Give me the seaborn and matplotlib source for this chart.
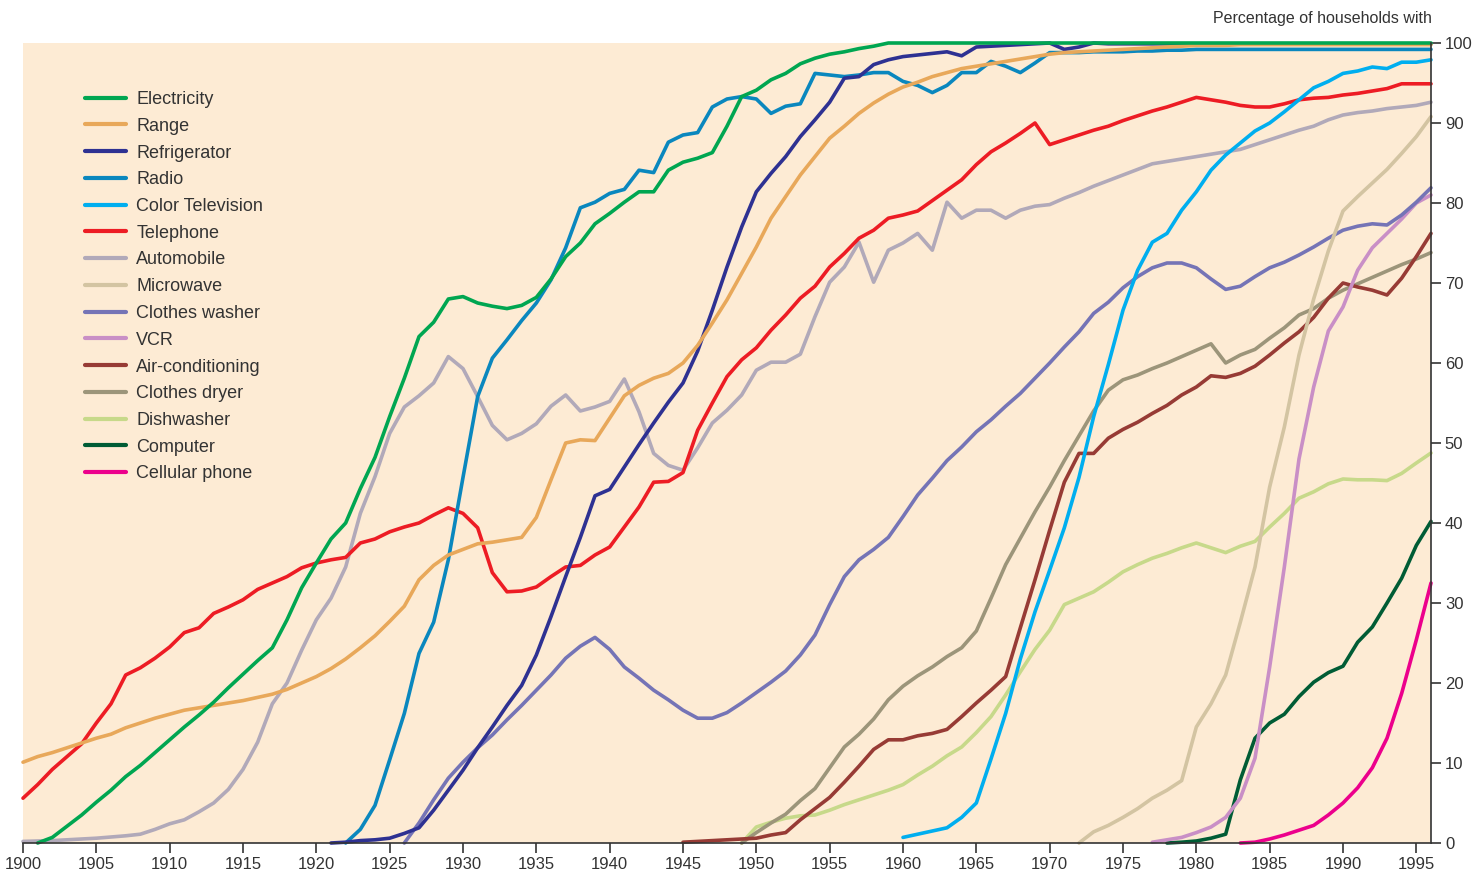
import pandas as pd
import matplotlib.pyplot as plt
import seaborn as sns

items = ["Electricity", "Range", "Refrigerator", "Radio", "Color Television",
         "Telephone", "Automobile", "Microwave", "Clothes washer", "VCR",
         "Air-conditioning", "Clothes dryer", "Dishwasher", "Computer",
         "Cellular phone"]
colors = ["#00A651", "#E8A85A", "#2E3192", "#0A87BE", "#00AEEF",
          "#ED1C24", "#B1A9B9", "#D3C4A2", "#7574B6", "#C98FC6",
          "#973B35", "#9C957A", "#C7D98A", "#005C35", "#EC008C"]

# first year of each series
starts = [1901, 1900, 1921, 1922, 1960, 1900, 1900, 1972, 1926, 1977,
          1945, 1949, 1949, 1978, 1983]

electricity = [0, 0.7, 2.1, 3.5, 5.1, 6.6, 8.3, 9.7, 11.3, 12.9,
               14.5, 16.0, 17.6, 19.4, 21.1, 22.8, 24.4, 27.9, 31.9, 35.0,
               38.0, 40.0, 44.3, 48.2, 53.3, 58.1, 63.3, 65.1, 68.0, 68.3,
               67.5, 67.1, 66.8, 67.2, 68.2, 70.5, 73.3, 75.0, 77.4, 78.7,
               80.1, 81.4, 81.4, 84.1, 85.1, 85.6, 86.3, 89.6, 93.3, 94.1,
               95.4, 96.2, 97.4, 98.1, 98.6, 98.9, 99.3, 99.6, 100, 100,
               100, 100, 100, 100, 100, 100, 100, 100, 100, 100,
               100, 100, 100, 100, 100, 100, 100, 100, 100, 100,
               100, 100, 100, 100, 100, 100, 100, 100, 100, 100,
               100, 100, 100, 100, 100, 100]
stove_range = [10.1, 10.8, 11.3, 11.9, 12.5, 13.1, 13.6, 14.4, 15.0, 15.6,
               16.1, 16.6, 16.9, 17.2, 17.5, 17.8, 18.2, 18.6, 19.2, 20.0,
               20.8, 21.8, 23.0, 24.4, 25.9, 27.7, 29.6, 32.9, 34.7, 36.0,
               36.7, 37.4, 37.6, 37.9, 38.2, 40.7, 45.4, 50.0, 50.4, 50.3,
               53.1, 55.9, 57.2, 58.1, 58.7, 60.0, 62.2, 65.0, 67.9, 71.2,
               74.5, 78.1, 80.8, 83.5, 85.8, 88.1, 89.6, 91.2, 92.5, 93.6,
               94.5, 95.1, 95.8, 96.3, 96.8, 97.1, 97.4, 97.7, 98.0, 98.3,
               98.6, 98.8, 98.9, 99.0, 99.1, 99.2, 99.3, 99.4, 99.5, 99.6,
               99.7, 99.7, 99.7, 99.8, 99.8, 99.8, 99.8, 99.8, 99.8, 99.8,
               99.8, 99.8, 99.8, 99.8, 99.8, 99.8, 99.8]
refrigerator = [0, 0.1, 0.3, 0.4, 0.6, 1.2, 1.9, 4.1, 6.6, 9.1,
                11.9, 14.5, 17.2, 19.7, 23.5, 28.3, 33.3, 38.2, 43.4, 44.2,
                47.0, 49.8, 52.5, 55.1, 57.5, 61.5, 66.6, 72.0, 77.0, 81.4,
                83.7, 85.8, 88.3, 90.4, 92.6, 95.6, 95.8, 97.3, 97.9, 98.3,
                98.5, 98.7, 98.9, 98.4, 99.5, 99.6, 99.7, 99.8, 99.9, 100,
                99.2, 99.5, 100, 99.9, 99.9, 99.9, 99.9, 99.9, 99.9, 99.9,
                99.9, 99.9, 99.9, 99.9, 99.9, 99.9, 99.9, 99.9, 99.9, 99.9,
                99.9, 99.9, 99.9, 99.9, 99.9, 99.9]
radio = [0, 1.7, 4.7, 10.4, 16.2, 23.7, 27.6, 35.4, 45.7,
         55.8, 60.6, 62.9, 65.3, 67.5, 70.4, 74.4, 79.4, 80.1, 81.2,
         81.7, 84.1, 83.8, 87.6, 88.5, 88.8, 92.0, 93.0, 93.3, 93.0,
         91.2, 92.1, 92.4, 96.2, 96.0, 95.8, 96.0, 96.3, 96.3, 95.2,
         94.7, 93.8, 94.7, 96.3, 96.3, 97.7, 97.1, 96.3, 97.5, 98.8,
         98.8, 98.8, 98.9, 98.9, 98.9, 99.0, 99.0, 99.1, 99.1, 99.2,
         99.2, 99.2, 99.2, 99.2, 99.2, 99.2, 99.2, 99.2, 99.2, 99.2,
         99.2, 99.2, 99.2, 99.2, 99.2, 99.2]
color_tv = [0.7, 1.1, 1.5, 1.9, 3.2, 5.0, 10.5, 16.2, 23.0, 28.9,
            34.1, 39.4, 45.7, 53.3, 59.8, 66.6, 71.6, 75.1, 76.2, 79.1,
            81.4, 84.1, 86.0, 87.5, 89.0, 90.0, 91.4, 92.9, 94.4, 95.2,
            96.2, 96.5, 97.0, 96.8, 97.6, 97.6, 97.9]
telephone = [5.6, 7.3, 9.2, 10.8, 12.4, 15.0, 17.4, 21.0, 21.9, 23.1,
             24.5, 26.3, 26.9, 28.7, 29.5, 30.4, 31.7, 32.5, 33.3, 34.4,
             35.0, 35.4, 35.7, 37.5, 38.0, 38.9, 39.5, 40.0, 41.0, 41.9,
             41.2, 39.4, 33.8, 31.4, 31.5, 32.0, 33.3, 34.5, 34.7, 36.0,
             37.0, 39.5, 42.0, 45.1, 45.2, 46.3, 51.6, 55.0, 58.3, 60.4,
             61.9, 64.1, 66.0, 68.1, 69.6, 72.0, 73.7, 75.6, 76.6, 78.1,
             78.5, 79.0, 80.3, 81.6, 82.9, 84.8, 86.4, 87.5, 88.7, 90.0,
             87.3, 87.9, 88.5, 89.1, 89.6, 90.3, 90.9, 91.5, 92.0, 92.6,
             93.2, 92.9, 92.6, 92.2, 92.0, 92.0, 92.4, 92.9, 93.1, 93.2,
             93.5, 93.7, 94.0, 94.3, 94.9, 94.9, 94.9]
automobile = [0.2, 0.25, 0.3, 0.4, 0.5, 0.6, 0.75, 0.9, 1.1, 1.7,
              2.4, 2.9, 3.9, 5.0, 6.7, 9.2, 12.6, 17.4, 20.0, 24.1,
              27.9, 30.6, 34.5, 41.2, 45.8, 51.2, 54.5, 55.9, 57.5, 60.8,
              59.3, 55.8, 52.2, 50.4, 51.2, 52.4, 54.6, 56.0, 54.0, 54.5,
              55.2, 58.0, 53.9, 48.7, 47.2, 46.6, 49.4, 52.5, 54.1, 56.0,
              59.1, 60.1, 60.1, 61.1, 65.8, 70.1, 72.0, 75.1, 70.1, 74.1,
              75.0, 76.2, 74.1, 80.1, 78.1, 79.1, 79.1, 78.1, 79.1, 79.6,
              79.8, 80.6, 81.3, 82.1, 82.8, 83.5, 84.2, 84.9, 85.2, 85.5,
              85.8, 86.1, 86.4, 86.7, 87.3, 87.9, 88.5, 89.1, 89.6, 90.4,
              91.0, 91.3, 91.5, 91.8, 92.0, 92.2, 92.6]
microwave = [0, 1.4, 2.2, 3.2, 4.3, 5.6, 6.6, 7.8, 14.5, 17.4,
             21.0, 27.6, 34.5, 44.5, 52.0, 61.0, 68.0, 74.0, 79.0, 80.8,
             82.5, 84.2, 86.2, 88.3, 90.8]
clothes_washer = [0, 2.5, 5.4, 8.1, 10.1, 11.9, 13.5, 15.4, 17.2, 19.1,
                  21.0, 23.1, 24.6, 25.7, 24.2, 22.0, 20.6, 19.1, 17.9, 16.6,
                  15.6, 15.6, 16.3, 17.5, 18.8, 20.1, 21.5, 23.5, 26.0, 29.8,
                  33.3, 35.4, 36.7, 38.2, 40.8, 43.5, 45.6, 47.8, 49.5, 51.4,
                  52.9, 54.6, 56.2, 58.1, 60.0, 62.0, 63.9, 66.2, 67.6, 69.4,
                  70.8, 71.9, 72.5, 72.5, 71.9, 70.5, 69.2, 69.6, 70.8, 71.9,
                  72.6, 73.5, 74.5, 75.6, 76.6, 77.1, 77.4, 77.25, 78.5, 80.1,
                  81.9]
vcr = [0.1, 0.4, 0.7, 1.3, 2.0, 3.2, 5.6, 10.6, 22.0, 34.5,
       48.0, 57.0, 64.0, 67.0, 71.6, 74.4, 76.2, 78.0, 80.0, 81.0]
air_conditioning = [0.1, 0.2, 0.3, 0.4, 0.5, 0.6, 1.0, 1.3, 2.9, 4.3,
                    5.7, 7.6, 9.6, 11.7, 12.9, 12.9, 13.4, 13.7, 14.2, 15.8,
                    17.5, 19.1, 20.8, 26.9, 32.9, 39.1, 45.1, 48.7, 48.7, 50.6,
                    51.7, 52.6, 53.7, 54.7, 56.0, 57.0, 58.4, 58.2, 58.7, 59.6,
                    61.0, 62.5, 63.9, 65.7, 68.1, 70.0, 69.5, 69.1, 68.5, 70.6,
                    73.3, 76.2]
clothes_dryer = [0, 1.3, 2.5, 3.6, 5.3, 6.8, 9.4, 12.0, 13.6, 15.5,
                 17.9, 19.6, 20.9, 22.0, 23.3, 24.4, 26.5, 30.6, 34.8, 38.1,
                 41.4, 44.5, 47.8, 50.9, 54.0, 56.6, 57.9, 58.5, 59.3, 60.0,
                 60.8, 61.6, 62.4, 60.0, 61.0, 61.7, 63.1, 64.4, 66.0, 66.8,
                 68.1, 69.1, 69.9, 70.7, 71.5, 72.3, 73.0, 73.8]
dishwasher = [0, 2.0, 2.6, 3.1, 3.4, 3.5, 4.1, 4.8, 5.4, 6.0,
              6.6, 7.3, 8.5, 9.6, 10.9, 12.0, 13.8, 15.8, 18.5, 21.4,
              24.2, 26.6, 29.8, 30.6, 31.4, 32.6, 33.9, 34.8, 35.6, 36.2,
              36.9, 37.5, 36.9, 36.3, 37.1, 37.7, 39.5, 41.2, 43.1, 43.9,
              44.9, 45.5, 45.4, 45.4, 45.3, 46.2, 47.5, 48.75]
computer = [0, 0.1, 0.25, 0.6, 1.1, 7.9, 13.1, 15.0, 16.1, 18.3,
            20.1, 21.3, 22.1, 25.1, 27.0, 30.0, 33.1, 37.2, 40.2]
cellular_phone = [0, 0.1, 0.5, 1.0, 1.6, 2.2, 3.5, 5.0, 6.9, 9.4,
                  13.1, 18.7, 25.4, 32.5]

series = [electricity, stove_range, refrigerator, radio, color_tv, telephone,
          automobile, microwave, clothes_washer, vcr, air_conditioning,
          clothes_dryer, dishwasher, computer, cellular_phone]

frames = []
for name, start, vals in zip(items, starts, series):
    frames.append(pd.DataFrame({'year': list(range(start, start + len(vals))),
                                'pct': vals, 'item': name}))
df = pd.concat(frames, ignore_index=True)

sns.set_theme(style='ticks')
plt.rcParams['font.family'] = ['Liberation Sans', 'DejaVu Sans']

W, H = 1482, 877
fig = plt.figure(figsize=(W / 100, H / 100), dpi=100)
ax = fig.add_axes([23 / W, 34 / H, 1408 / W, 800 / H])
ax.set_facecolor('#FDEBD4')

palette = dict(zip(items, colors))
# draw backwards so electricity ends up on top
for name in items[::-1]:
    sns.lineplot(data=df[df['item'] == name], x='year', y='pct', color=palette[name],
                 linewidth=2.6, label=name, ax=ax, clip_on=False)

ax.set_xlim(1900, 1996)
ax.set_ylim(0, 100)
ax.set_xticks(range(1900, 1996, 5))
ax.set_yticks(range(0, 101, 10))
ax.yaxis.tick_right()
ax.set_xlabel('')
ax.set_ylabel('')
ax.tick_params(axis='both', length=7, width=1.2, colors='#333333', labelsize=12,
               direction='out', pad=3)
for s in ['left', 'top']:
    ax.spines[s].set_visible(False)
for s in ['bottom', 'right']:
    ax.spines[s].set_color('#333333')
    ax.spines[s].set_linewidth(1.2)

handles, labels = ax.get_legend_handles_labels()
leg = ax.legend(handles[::-1], labels[::-1], loc='upper left',
                bbox_to_anchor=(0.044, 0.94), frameon=False, fontsize=13,
                handlelength=2.3, handletextpad=0.55, labelspacing=0.54,
                borderpad=0, borderaxespad=0)
for t in leg.get_texts():
    t.set_color('#333333')
for l in leg.get_lines():
    l.set_linewidth(3)

fig.text(1432 / W, 1 - 18 / H, 'Percentage of households with', ha='right',
         va='center', fontsize=11.5, color='#333333')

fig.savefig('out.png', dpi=100)
